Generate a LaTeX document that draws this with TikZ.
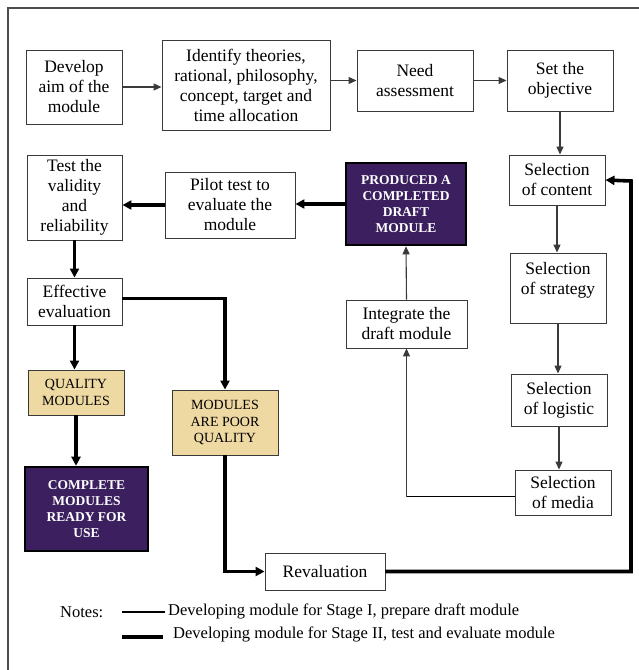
\documentclass[tikz,border=0pt]{standalone}
\usepackage{fontspec}
\setmainfont{Liberation Serif}
\usetikzlibrary{arrows.meta,calc}
\definecolor{purp}{HTML}{3B1F5E}
\definecolor{tan}{HTML}{EFD9A3}
\definecolor{lin}{HTML}{3A3A3A}
\begin{document}
\begin{tikzpicture}[x=1pt,y=-1pt,
  box/.style={draw=lin, line width=0.9pt, fill=white, align=center, inner sep=0pt,
    font=\fontsize{17.5}{20}\selectfont},
  tanbox/.style={draw=lin, line width=0.9pt, fill=tan, align=center, inner sep=0pt,
    font=\fontsize{14}{16.5}\selectfont},
  purpbox/.style={draw=black, line width=2.6pt, fill=purp, text=white, align=center, inner sep=0pt,
    font=\fontsize{13.5}{16}\selectfont\bfseries},
  thin/.style={draw=lin, line width=1.1pt, -{Triangle[length=8pt,width=7pt]}},
  thinline/.style={draw=black, line width=1.1pt},
  thick/.style={draw=black, line width=3.6pt, -{Triangle[length=9pt,width=9pt]}},
  note/.style={anchor=west, font=\fontsize{16.5}{19}\selectfont, inner sep=0pt},
]
\useasboundingbox (0,0) rectangle (639,670);
\fill[white] (0,0) rectangle (639,670);
\draw[draw=gray!60!black, line width=1.6pt] (8,670) -- (8,8) -- (639,8);

% top row
\node[box, minimum width=96pt, minimum height=74pt] (dev) at (74,87) {Develop\\aim of the\\module};
\node[box, minimum width=168pt, minimum height=90pt] (iden) at (246,85) {Identify theories,\\rational, philosophy,\\concept, target and\\time allocation};
\node[box, minimum width=116pt, minimum height=61pt] (need) at (415,80.5) {Need\\assessment};
\node[box, minimum width=106pt, minimum height=61pt] (obj) at (560,80.5) {Set the\\objective};

% right column
\node[box, minimum width=96pt, minimum height=50pt] (cont) at (557,180) {Selection\\of content};
\node[box, minimum width=96pt, minimum height=70pt] (strat) at (558,288) {Selection\\of strategy\\\mbox{}};
\node[box, minimum width=96pt, minimum height=52pt] (logi) at (559,400) {Selection\\of logistic};
\node[box, minimum width=96pt, minimum height=45pt] (media) at (563,492.5) {Selection\\of media};

% middle
\node[box, minimum width=121pt, minimum height=48pt] (integ) at (406.5,324) {Integrate the\\draft module};
\node[purpbox, minimum width=120pt, minimum height=82pt] (prod) at (406,204) {PRODUCED A\\COMPLETED\\DRAFT\\MODULE};
\node[box, minimum width=130pt, minimum height=66pt] (pilot) at (230,205) {Pilot test to\\evaluate the\\module};

% left column
\node[box, minimum width=95pt, minimum height=85pt] (test) at (74.5,197.5) {Test the\\validity\\and\\reliability};
\node[box, minimum width=95pt, minimum height=47pt] (eff) at (74.5,301.5) {Effective\\evaluation};
\node[tanbox, minimum width=96pt, minimum height=45pt] (qual) at (76,392.5) {QUALITY\\MODULES};
\node[purpbox, minimum width=123pt, minimum height=84pt] (compl) at (86.5,509) {COMPLETE\\MODULES\\READY FOR\\USE};
\node[tanbox, minimum width=106pt, minimum height=65pt] (poor) at (225,422.5) {MODULES\\ARE POOR\\QUALITY};
\node[box, minimum width=120pt, minimum height=37pt] (reval) at (325,571.5) {Revaluation};

% stage I connectors
\draw[thin] (dev.east) -- (dev.east -| iden.west);
\draw[thin] (need.west -| iden.east) -- (need.west);
\draw[thin] (need.east) -- (need.east -| obj.west);
\draw[thin] (obj.south) -- (obj.south |- cont.north);
\draw[thin] (cont.south) -- (cont.south |- strat.north);
\draw[thin] (strat.south) -- (strat.south |- logi.north);
\draw[thin] (logi.south) -- (logi.south |- media.north);
\coordinate (mturn) at ($(integ.south |- media.west)+(0,4)$);
\draw[thinline] ($(media.west)+(0,4)$) -- (mturn);
\draw[thin] (mturn) -- (integ.south);
\draw[thin] (integ.north) -- (prod.south);

% stage II connectors
\draw[thick] (prod.west) -- (prod.west -| pilot.east);
\draw[thick] (pilot.west) -- (pilot.west -| test.east);
\draw[thick] (test.south) -- (eff.north);
\draw[thick] (eff.south) -- (eff.south |- qual.north);
\coordinate (eturn) at ($(poor.north |- eff.east)+(0,-3)$);
\draw[thick] ($(eff.east)+(0,-3)$) -- (eturn) -- (poor.north);
\draw[thick] (qual.south) -- (qual.south |- compl.north);
\coordinate (pturn) at (poor.south |- reval.west);
\draw[thick] (poor.south) -- (pturn) -- (reval.west);
\coordinate (rr) at (631,571.5);
\coordinate (rc) at (631,181);
\draw[thick] (reval.east) -- (rr) -- (rc) -- (cont.east);

% notes
\node[note] (notes) at (60,612) {Notes:};
\coordinate (l1a) at (122,612);
\coordinate (l1b) at (165,612);
\draw[black, line width=1.1pt] (l1a) -- (l1b);
\node[note] (n1) at (168,611) {Developing module for Stage I, prepare draft module};
\coordinate (l2a) at (122,637);
\coordinate (l2b) at (163,637);
\draw[black, line width=3.6pt] (l2a) -- (l2b);
\node[note] (n2) at (173,634) {Developing module for Stage II, test and evaluate module};
\end{tikzpicture}
\end{document}
